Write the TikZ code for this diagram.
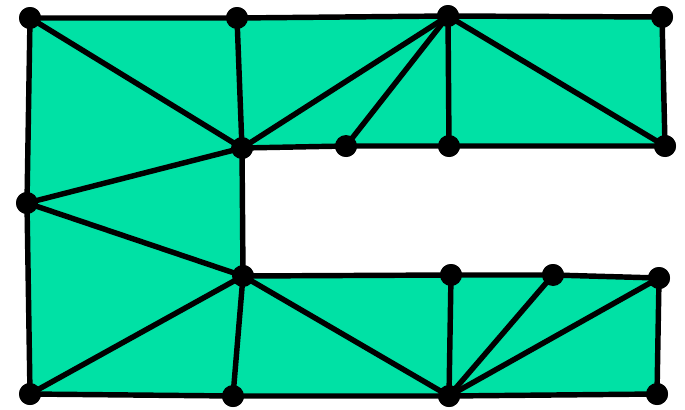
\documentclass[tikz,border=0pt]{standalone}
\definecolor{meshgreen}{RGB}{0,225,165}
\tikzset{
  vtx/.style={circle,fill=black,inner sep=0pt,minimum size=0.44cm},
  edge/.style={line width=3.1pt}
}
\begin{document}
\begin{tikzpicture}[x=0.02cm,y=-0.02cm]
\useasboundingbox (0,0) rectangle (685,409);
% vertices
\node[vtx] (a) at (30,18) {};
\node[vtx] (b) at (237,18) {};
\node[vtx] (c) at (448,16) {};
\node[vtx] (d) at (662,17) {};
\node[vtx] (e) at (242,148) {};
\node[vtx] (f) at (346,146) {};
\node[vtx] (g) at (449,146) {};
\node[vtx] (h) at (665,146) {};
\node[vtx] (i) at (27,203) {};
\node[vtx] (j) at (243,276) {};
\node[vtx] (k) at (451,275) {};
\node[vtx] (l) at (553,275) {};
\node[vtx] (m) at (659,278) {};
\node[vtx] (n) at (30,394) {};
\node[vtx] (o) at (233,396) {};
\node[vtx] (p) at (449,396) {};
\node[vtx] (q) at (657,394) {};

% region
\fill[meshgreen] (a.center)--(b.center)--(c.center)--(d.center)--(h.center)--(g.center)--(f.center)--(e.center)
  --(j.center)--(k.center)--(l.center)--(m.center)--(q.center)--(p.center)--(o.center)--(n.center)--(i.center)--cycle;

% boundary
\draw[edge] (a.center)--(b.center)--(c.center)--(d.center)--(h.center)--(g.center)--(f.center)--(e.center)
  --(j.center)--(k.center)--(l.center)--(m.center)--(q.center)--(p.center)--(o.center)--(n.center)--(i.center)--cycle;

% interior edges
\draw[edge] (a.center)--(e.center);
\draw[edge] (b.center)--(e.center);
\draw[edge] (c.center)--(e.center);
\draw[edge] (c.center)--(f.center);
\draw[edge] (c.center)--(g.center);
\draw[edge] (c.center)--(h.center);
\draw[edge] (i.center)--(e.center);
\draw[edge] (i.center)--(j.center);
\draw[edge] (j.center)--(n.center);
\draw[edge] (j.center)--(o.center);
\draw[edge] (j.center)--(p.center);
\draw[edge] (k.center)--(p.center);
\draw[edge] (l.center)--(p.center);
\draw[edge] (m.center)--(p.center);

% dots on top
\foreach \v in {a,b,c,d,e,f,g,h,i,j,k,l,m,n,o,p,q}
  \fill (\v) circle (0.22cm);
\end{tikzpicture}
\end{document}
